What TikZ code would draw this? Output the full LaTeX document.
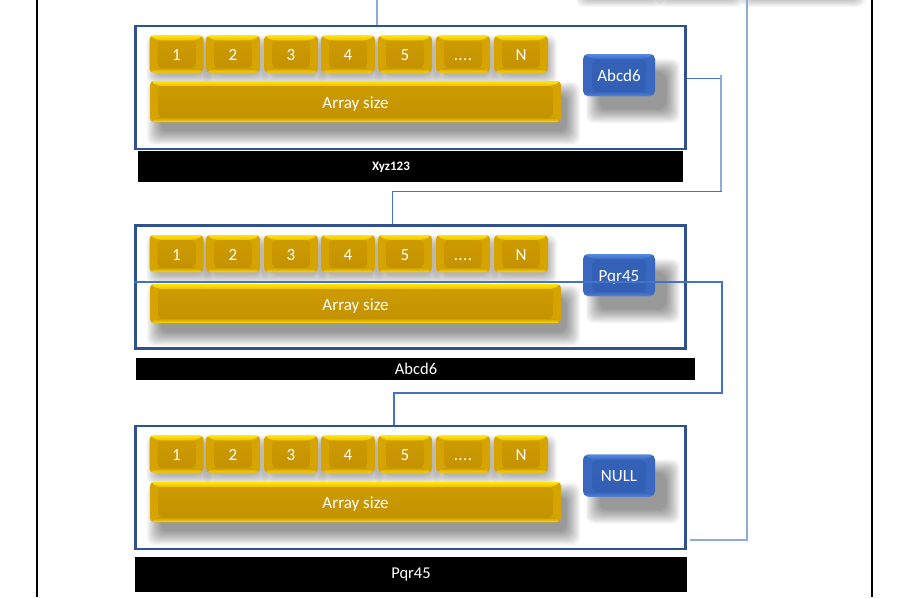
\documentclass[tikz,border=0pt]{standalone}
\usepackage{fontspec}
\setmainfont{Carlito}
\pgfdeclarelayer{boxlayer}
\pgfdeclarelayer{shadowlayer}
\pgfsetlayers{boxlayer,shadowlayer,main}
\definecolor{ytop}{RGB}{255,230,0}
\definecolor{ytopin}{RGB}{240,190,0}
\definecolor{ybody}{RGB}{196,146,0}
\definecolor{yside}{RGB}{214,164,0}
\definecolor{ybot}{RGB}{255,216,0}
\definecolor{btop}{RGB}{86,138,224}
\definecolor{btopin}{RGB}{60,108,196}
\definecolor{bbody}{RGB}{50,95,180}
\definecolor{bside}{RGB}{58,104,192}
\definecolor{bbot}{RGB}{82,132,220}
\definecolor{boxline}{RGB}{47,82,143}
\definecolor{conndark}{RGB}{68,114,196}
\definecolor{connlight}{RGB}{143,170,220}
\tikzset{
  % #1 top edge, #2 inner top, #3 body, #4 bottom edge, #5 side width, #6 band height
  bevel/.style n args={6}{path picture={
    \coordinate (@a) at (path picture bounding box.north west);
    \coordinate (@b) at (path picture bounding box.south east);
    \coordinate (@c) at (path picture bounding box.north east);
    \coordinate (@d) at (path picture bounding box.south west);
    \shade[top color=#1, bottom color=#2] (@a) -- (@c) -- ([shift={(-#5,-#6)}]@c) -- ([shift={(#5,-#6)}]@a) -- cycle;
    \shade[top color=#3, bottom color=#4] (@d) -- (@b) -- ([shift={(-#5,#6)}]@b) -- ([shift={(#5,#6)}]@d) -- cycle;
    \shade[top color=#3!80!#2, bottom color=#3] ([shift={(#5,-#6)}]@a) rectangle ([shift={(-#5,#6)}]@b);
  }},
  cell/.style={rounded corners=4pt, minimum width=54pt, minimum height=37pt, inner sep=0pt,
    fill=yside, bevel={ytop}{ytopin}{ybody}{ybot}{8pt}{5pt},
    text=white, font=\fontsize{17}{19}\selectfont, text height=14pt, text depth=1pt},
  arraybar/.style={cell, minimum width=411pt},
  ptr/.style={rounded corners=5pt, minimum width=72pt, minimum height=42pt, inner sep=0pt,
    fill=bside, bevel={btop}{btopin}{bbody}{bbot}{9pt}{5pt},
    text=white, font=\fontsize{17}{19}\selectfont, text height=13pt, text depth=1pt},
  recbox/.style={draw=boxline, line width=2.2pt, fill=white, inner sep=0pt},
  namebar/.style={fill=black, inner sep=0pt},
  nametext/.style={text=white, inner sep=0pt},
  conn/.style={draw=conndark, line width=1pt},
  connl/.style={draw=connlight, line width=1.2pt},
  pageedge/.style={draw=black, line width=1.2pt},
  softlayer/.style={fill=black, opacity=0.03, rounded corners=8pt},
}
% soft shadow of a node: #1 node, #2 x shift (right), #3 y shift (down), #4 spread
\newcommand\softshadow[4]{%
  \begin{pgfonlayer}{shadowlayer}
  \foreach \g in {-3,...,#4}{
    \fill[softlayer] ([xshift={(#2)-(\g)}, yshift={-(#3)+(\g)}]#1.north west)
      rectangle ([xshift={(#2)+(\g)}, yshift={-(#3)-(\g)}]#1.south east);
  }
  \end{pgfonlayer}}
\newcommand\mkrow[7]{%
  \foreach \cx/\lab [count=\i] in {176.5/1,233/2,291/3,348/4,405/5,463/{.\kern0.4pt.\kern0.4pt.\kern0.4pt.},521/N}{
    \node[cell] (#1c\i) at (\cx,#2) {\lab};
    \softshadow{#1c\i}{3}{6}{6}
  }
  \node[arraybar, minimum height=#4] (#1arr) at (355.5,#3) {Array size};
  \softshadow{#1arr}{8}{12}{11}
  \node[ptr] (#1ptr) at (619,#5) {#6};
  \softshadow{#1ptr}{14}{16}{11}
  \begin{pgfonlayer}{boxlayer}
  \node[recbox, minimum width=550pt, minimum height=123pt] (#7) at (410.5,#2+33.5) {};
  \end{pgfonlayer}
}
\begin{document}
\begin{tikzpicture}[x=1pt,y=-1pt]
\useasboundingbox (0,0) rectangle (907,597);
\begin{pgfonlayer}{boxlayer}
\fill[white] (0,0) rectangle (907,597);
\end{pgfonlayer}
% page edges
\coordinate (pl0) at (37,0); \coordinate (pl1) at (37,597);
\coordinate (pr0) at (872,0); \coordinate (pr1) at (872,597);
\draw[pageedge] (pl0) -- (pl1);
\draw[pageedge] (pr0) -- (pr1);
% shadows of shapes from the previous page
\foreach \xa/\xb in {582/650, 662/730, 746/852}{
  \foreach \g in {-3,...,10}{
    \fill[softlayer] (\xa+4-\g,-40) rectangle (\xb+4+\g,-3+\g);
  }
}
% records: cells, array size, pointer, box
\mkrow{r1}{54}{101.5}{41pt}{75}{Abcd6}{box1}
\mkrow{r2}{253.5}{303.5}{39pt}{275}{Pqr45}{box2}
\mkrow{r3}{454}{502}{40pt}{475.5}{NULL}{box3}
% name bars
\node[namebar, minimum width=545pt, minimum height=31pt] (bar1) at (410.5,166.5) {};
\node[nametext, font=\bfseries\fontsize{13}{15}\selectfont] (bar1t) at (391,167) {Xyz123};
\node[namebar, minimum width=559pt, minimum height=22pt] (bar2) at (415.5,369) {};
\node[nametext, font=\fontsize{16.5}{18}\selectfont] (bar2t) at (416,369) {Abcd6};
\node[namebar, minimum width=552pt, minimum height=35pt] (bar3) at (411,574.5) {};
\node[nametext, font=\fontsize{16.5}{18}\selectfont] (bar3t) at (411,575) {Pqr45};
% connectors
\coordinate (t0) at (377,0);
\draw[connl] (t0) -- (t0 |- box1.north);
\coordinate (k1a) at (721,78); \coordinate (k1b) at (721,191); \coordinate (k1c) at (392,191);
\draw[conn] (box1.east |- k1a) -- (k1a) -- (k1b) -- (k1c) -- (k1c |- box2.north);
\draw[connl] (k1a) ++(0,-3) -- (k1b);
\coordinate (k2a) at (722,282); \coordinate (k2b) at (722,393); \coordinate (k2c) at (394,393);
\draw[conn, line width=1.2pt] (box2.west |- k2a) -- (k2a) -- (k2b) -- (k2c) -- (k2c |- box3.north);
\coordinate (t3) at (747,0); \coordinate (k3a) at (747,540); \coordinate (k3b) at (690,540);
\draw[connl] (t3) -- (k3a) -- (k3b);
\end{tikzpicture}
\end{document}
